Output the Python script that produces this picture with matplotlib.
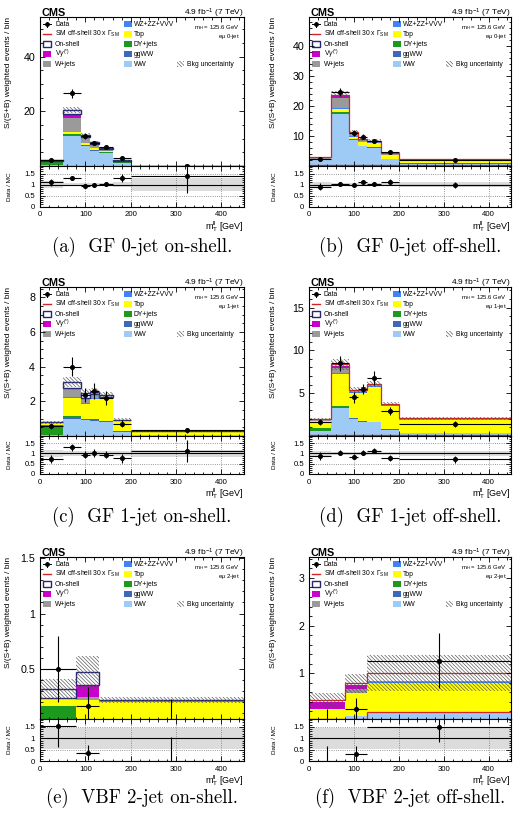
import numpy as np
import matplotlib
matplotlib.use('Agg')
import matplotlib.pyplot as plt
from matplotlib.patches import Rectangle
from matplotlib.lines import Line2D
from matplotlib.ticker import MultipleLocator, FuncFormatter

plt.rcParams['font.family'] = ['Liberation Sans', 'DejaVu Sans']
plt.rcParams['mathtext.fontset'] = 'custom'
plt.rcParams['mathtext.rm'] = 'Liberation Sans'
plt.rcParams['mathtext.it'] = 'Liberation Sans:italic'
plt.rcParams['mathtext.bf'] = 'Liberation Sans:bold'
plt.rcParams['hatch.linewidth'] = 0.45
plt.rcParams['hatch.color'] = '#505050'
plt.rcParams['axes.linewidth'] = 0.8

# ---------------- data ----------------
edges_gf = [0, 50, 90, 110, 130, 160, 200, 450]
edges_vbf = [0, 80, 130, 450]

bkg_labels = ['WW', 'ggWW', 'DY+jets', 'Top', 'WZ+ZZ+VVV', 'W+jets', r'V$\gamma^{(*)}$']
bkg_colors = ['#9dcbf5', '#3e68b8', '#1d9a1d', '#ffff00', '#4183f5', '#9a9a9a', '#cc00cc']

# (a) GF 0-jet on-shell
a_ww    = [0.50, 11.0, 7.40, 5.60, 4.70, 1.20, 0.05]
a_ggww  = [0.02, 0.40, 0.25, 0.20, 0.15, 0.05, 0.00]
a_dy    = [0.90, 0.30, 0.20, 0.15, 0.10, 0.05, 0.00]
a_top   = [0.15, 0.60, 0.50, 0.60, 0.50, 0.30, 0.02]
a_vz    = [0.05, 0.20, 0.15, 0.10, 0.10, 0.05, 0.00]
a_wjets = [0.30, 5.20, 1.80, 1.20, 0.60, 0.30, 0.01]
a_vg    = [0.05, 1.20, 0.40, 0.30, 0.20, 0.05, 0.00]
a_on    = [0.08, 1.60, 0.70, 0.50, 0.30, 0.10, 0.00]
a_data  = [2.25, 26.6, 10.9, 8.40, 6.90, 2.75, 0.11]
a_err   = [0.35, 1.60, 0.90, 0.70, 0.60, 0.40, 0.06]
a_unc   = [0.15, 1.20, 0.70, 0.50, 0.40, 0.20, 0.02]
a_rband = [0.15, 0.08, 0.08, 0.08, 0.08, 0.12, 0.30]

# (b) GF 0-jet off-shell
b_ww    = [1.90, 17.3, 8.60, 6.50, 6.10, 2.30, 0.80]
b_ggww  = [0.05, 0.40, 0.20, 0.15, 0.15, 0.10, 0.10]
b_dy    = [0.30, 0.30, 0.10, 0.10, 0.05, 0.05, 0.05]
b_top   = [0.15, 1.10, 0.90, 1.10, 1.50, 1.20, 0.75]
b_vz    = [0.05, 0.20, 0.15, 0.10, 0.10, 0.10, 0.10]
b_wjets = [0.10, 3.20, 0.90, 0.60, 0.20, 0.20, 0.15]
b_vg    = [0.05, 0.90, 0.15, 0.10, 0.05, 0.05, 0.05]
b_off   = [0.25, 0.30, 0.30, 0.30, 0.30, 0.30, 0.30]
b_data  = [2.35, 24.5, 11.0, 9.80, 8.30, 4.50, 1.95]
b_err   = [0.40, 1.30, 0.90, 0.80, 0.70, 0.50, 0.25]
b_unc   = [0.20, 1.20, 0.60, 0.50, 0.45, 0.30, 0.15]
b_rband = [0.10, 0.06, 0.06, 0.06, 0.06, 0.08, 0.10]

# (c) GF 1-jet on-shell
c_ww    = [0.05, 1.00, 0.90, 0.87, 0.80, 0.23, 0.03]
c_ggww  = [0.00, 0.05, 0.04, 0.04, 0.03, 0.01, 0.00]
c_dy    = [0.60, 0.13, 0.05, 0.05, 0.04, 0.02, 0.02]
c_top   = [0.12, 1.00, 0.85, 1.20, 1.25, 0.60, 0.20]
c_vz    = [0.01, 0.05, 0.04, 0.04, 0.03, 0.02, 0.01]
c_wjets = [0.02, 0.50, 0.30, 0.20, 0.10, 0.04, 0.01]
c_vg    = [0.00, 0.02, 0.02, 0.01, 0.01, 0.00, 0.00]
c_on    = [0.00, 0.35, 0.30, 0.14, 0.09, 0.03, 0.01]
c_data  = [0.58, 4.00, 2.35, 2.60, 2.20, 0.72, 0.32]
c_err   = [0.15, 0.55, 0.40, 0.45, 0.40, 0.20, 0.15]
c_unc   = [0.08, 0.30, 0.20, 0.20, 0.18, 0.08, 0.03]
c_rband = [0.15, 0.12, 0.10, 0.10, 0.10, 0.12, 0.15]

# (d) GF 1-jet off-shell
d_ww    = [0.55, 3.30, 2.00, 1.60, 1.60, 0.75, 0.30]
d_ggww  = [0.02, 0.10, 0.06, 0.05, 0.05, 0.03, 0.02]
d_dy    = [0.40, 0.15, 0.05, 0.05, 0.04, 0.03, 0.03]
d_top   = [0.80, 3.70, 2.90, 3.30, 4.00, 2.70, 1.50]
d_vz    = [0.03, 0.15, 0.10, 0.10, 0.10, 0.06, 0.05]
d_wjets = [0.05, 0.50, 0.15, 0.15, 0.15, 0.08, 0.05]
d_vg    = [0.02, 0.30, 0.04, 0.05, 0.06, 0.03, 0.02]
d_off   = [0.10, 0.15, 0.10, 0.10, 0.10, 0.10, 0.10]
d_data  = [1.65, 8.50, 4.50, 5.50, 6.80, 2.90, 1.40]
d_err   = [0.35, 0.90, 0.60, 0.60, 0.80, 0.50, 0.30]
d_unc   = [0.15, 0.60, 0.35, 0.35, 0.35, 0.20, 0.15]
d_rband = [0.10, 0.08, 0.08, 0.08, 0.08, 0.08, 0.10]

# (e) VBF 2-jet on-shell
e_ww    = [0.010, 0.010, 0.010]
e_ggww  = [0.000, 0.000, 0.000]
e_dy    = [0.155, 0.000, 0.000]
e_top   = [0.070, 0.215, 0.190]
e_vz    = [0.000, 0.000, 0.000]
e_wjets = [0.008, 0.020, 0.020]
e_vg    = [0.000, 0.110, 0.000]
e_on    = [0.080, 0.115, 0.000]
e_data  = [0.50, 0.167, 0.0]
e_elo   = [0.30, 0.140, 0.0]
e_ehi   = [0.30, 0.170, 0.23]
e_unc   = [0.09, 0.150, 0.03]
e_rband = [0.45, 0.45, 0.45]

# (f) VBF 2-jet off-shell
f_ww    = [0.00, 0.10, 0.17]
f_ggww  = [0.00, 0.00, 0.00]
f_dy    = [0.00, 0.00, 0.00]
f_top   = [0.24, 0.48, 0.63]
f_vz    = [0.00, 0.00, 0.01]
f_wjets = [0.02, 0.10, 0.02]
f_vg    = [0.13, 0.08, 0.00]
f_off   = [0.05, 0.03, 0.18]
f_data  = [0.0, 0.24, 1.25]
f_elo   = [0.0, 0.24, 0.55]
f_ehi   = [0.26, 0.25, 0.60]
f_unc   = [0.14, 0.20, 0.38]
f_rband = [0.45, 0.45, 0.45]

panels = [
    dict(edges=edges_gf, stack=[a_ww, a_ggww, a_dy, a_top, a_vz, a_wjets, a_vg], on=a_on, off=None,
         data=a_data, elo=a_err, ehi=a_err, unc=a_unc, rband=a_rband, ylim=(0, 54.5), major=20, minor=5,
         cat=r'e$\mu$ 0-jet', caption='(a)  GF 0-jet on-shell.'),
    dict(edges=edges_gf, stack=[b_ww, b_ggww, b_dy, b_top, b_vz, b_wjets, b_vg], on=None, off=b_off,
         data=b_data, elo=b_err, ehi=b_err, unc=b_unc, rband=b_rband, ylim=(0, 49.5), major=10, minor=2,
         cat=r'e$\mu$ 0-jet', caption='(b)  GF 0-jet off-shell.'),
    dict(edges=edges_gf, stack=[c_ww, c_ggww, c_dy, c_top, c_vz, c_wjets, c_vg], on=c_on, off=None,
         data=c_data, elo=c_err, ehi=c_err, unc=c_unc, rband=c_rband, ylim=(0, 8.6), major=2, minor=0.5,
         cat=r'e$\mu$ 1-jet', caption='(c)  GF 1-jet on-shell.'),
    dict(edges=edges_gf, stack=[d_ww, d_ggww, d_dy, d_top, d_vz, d_wjets, d_vg], on=None, off=d_off,
         data=d_data, elo=d_err, ehi=d_err, unc=d_unc, rband=d_rband, ylim=(0, 17.4), major=5, minor=1,
         cat=r'e$\mu$ 1-jet', caption='(d)  GF 1-jet off-shell.'),
    dict(edges=edges_vbf, stack=[e_ww, e_ggww, e_dy, e_top, e_vz, e_wjets, e_vg], on=e_on, off=None,
         data=e_data, elo=e_elo, ehi=e_ehi, unc=e_unc, rband=e_rband, ylim=(0.05, 1.51), major=0.5, minor=0.1,
         cat=r'e$\mu$ 2-jet', caption='(e)  VBF 2-jet on-shell.'),
    dict(edges=edges_vbf, stack=[f_ww, f_ggww, f_dy, f_top, f_vz, f_wjets, f_vg], on=None, off=f_off,
         data=f_data, elo=f_elo, ehi=f_ehi, unc=f_unc, rband=f_rband, ylim=(0.04, 3.44), major=1, minor=0.2,
         cat=r'e$\mu$ 2-jet', caption='(f)  VBF 2-jet off-shell.'),
]

# ---------------- layout (pixels) ----------------
W, H = 519, 817
cols_x = [(40, 244), (309, 511)]
rows_y = [(17, 166, 206.5, 247), (287, 436, 474, 517), (557, 719, 761, 798)]
RED = '#d42424'
NAVY = '#25257a'
HATCH = '\\\\\\\\\\\\\\\\\\'

fig = plt.figure(figsize=(W / 100, H / 100), dpi=100)


def add_ax(x0, x1, y0, y1):
    return fig.add_axes([x0 / W, 1 - y1 / H, (x1 - x0) / W, (y1 - y0) / H])


def fmt(v, pos):
    return '' if abs(v) < 1e-9 else '%g' % v


def style(ax, major, minor):
    ax.tick_params(which='both', direction='in', top=True, right=True, width=0.6)
    ax.tick_params(which='major', length=3.5)
    ax.tick_params(which='minor', length=1.8)
    ax.xaxis.set_major_locator(MultipleLocator(100))
    ax.xaxis.set_minor_locator(MultipleLocator(20))
    ax.yaxis.set_major_locator(MultipleLocator(major))
    ax.yaxis.set_minor_locator(MultipleLocator(minor))


def draw_legend(ax, wpx, hpx):
    fx = lambda p: p / wpx
    fy = lambda p: 1 - p / hpx
    rows = [7.3, 17.3, 27.3, 37.3, 47.3]
    fs = 4.9
    tr = ax.transAxes
    # column 1
    y = rows[0]
    ax.add_line(Line2D([fx(3), fx(11)], [fy(y)] * 2, color='k', lw=0.7, transform=tr))
    ax.add_line(Line2D([fx(7), fx(7)], [fy(y - 2.5), fy(y + 2.5)], color='k', lw=0.7, transform=tr))
    ax.add_line(Line2D([fx(7)], [fy(y)], marker='o', ms=2.4, color='k', transform=tr))
    ax.text(fx(15), fy(y), 'Data', fontsize=fs, va='center', transform=tr)
    y = rows[1]
    ax.add_line(Line2D([fx(3), fx(11)], [fy(y)] * 2, color=RED, lw=1.0, transform=tr))
    ax.text(fx(15), fy(y), r'SM off-shell 30 x $\Gamma_{\mathrm{SM}}$', fontsize=fs, va='center', transform=tr)
    col1 = [(rows[2], dict(facecolor='white', edgecolor=NAVY, lw=1.0), 'On-shell'),
            (rows[3], dict(facecolor=bkg_colors[6], edgecolor='none'), bkg_labels[6]),
            (rows[4], dict(facecolor=bkg_colors[5], edgecolor='none'), bkg_labels[5])]
    col2 = [(rows[0], bkg_colors[4], bkg_labels[4]), (rows[1], bkg_colors[3], bkg_labels[3]),
            (rows[2], bkg_colors[2], bkg_labels[2]), (rows[3], bkg_colors[1], bkg_labels[1]),
            (rows[4], bkg_colors[0], bkg_labels[0])]
    for y, kw, lab in col1:
        ax.add_patch(Rectangle((fx(3), fy(y + 3)), 8 / wpx, 6 / hpx, transform=tr, **kw))
        ax.text(fx(15), fy(y), lab, fontsize=fs, va='center', transform=tr)
    for y, col, lab in col2:
        ax.add_patch(Rectangle((fx(84), fy(y + 3)), 8 / wpx, 6 / hpx, transform=tr, facecolor=col, edgecolor='none'))
        ax.text(fx(94), fy(y), lab, fontsize=fs, va='center', transform=tr)
    y = rows[4]
    ax.add_patch(Rectangle((fx(137), fy(y + 3)), 7 / wpx, 6 / hpx, transform=tr, fill=False,
                           hatch=HATCH, edgecolor='#505050', lw=0))
    ax.text(fx(147), fy(y), 'Bkg uncertainty', fontsize=fs, va='center', transform=tr)


for i, p in enumerate(panels):
    ci, ri = i % 2, i // 2
    x0, x1 = cols_x[ci]
    y0, ym, y1, ycap = rows_y[ri]
    ax = add_ax(x0, x1, y0, ym)
    rax = add_ax(x0, x1, ym, y1)
    wpx, hpx, rhpx = x1 - x0, ym - y0, y1 - ym

    edges = np.array(p['edges'], float)
    widths = np.diff(edges)
    centers = edges[:-1] + widths / 2
    bottom = np.zeros(len(widths))
    for vals, col in zip(p['stack'], bkg_colors):
        vals = np.array(vals, float)
        ax.stairs(bottom + vals, edges, baseline=bottom.copy(), fill=True, color=col, lw=0)
        bottom = bottom + vals
    denom = bottom.copy()
    total = bottom.copy()
    if p['on'] is not None:
        on = np.array(p['on'], float)
        ax.bar(edges[:-1], on, width=widths, bottom=bottom, align='edge', facecolor='white',
               edgecolor=NAVY, lw=1.0)
        denom = denom + on
        total = total + on
    if p['off'] is not None:
        off = np.array(p['off'], float)
        total = total + off
        ax.stairs(total, edges, baseline=None, color=RED, lw=0.9)
        ax.stairs(off, edges, baseline=None, color=RED, lw=0.9)
    unc = np.array(p['unc'], float)
    ax.bar(edges[:-1], 2 * unc, width=widths, bottom=total - unc, align='edge', fill=False,
           hatch=HATCH, edgecolor='#505050', lw=0)

    data = np.array(p['data'], float)
    elo = np.array(p['elo'], float)
    ehi = np.array(p['ehi'], float)
    ax.errorbar(centers, data, xerr=widths / 2, yerr=[elo, ehi], fmt='none', ecolor='k', elinewidth=0.8)
    m = data > 0
    ax.plot(centers[m], data[m], 'o', color='k', ms=2.6)

    ax.set_xlim(0, 450)
    ax.set_ylim(*p['ylim'])
    style(ax, p['major'], p['minor'])
    ax.tick_params(labelbottom=False, labelsize=7.7)
    ax.yaxis.set_major_formatter(FuncFormatter(fmt))
    ax.set_ylabel('S/(S+B) weighted events / bin', fontsize=6.0, ha='right', y=1.0)
    ax.yaxis.set_label_coords(-(28 if ci == 0 else 32) / wpx, 1.0)

    draw_legend(ax, wpx, hpx)
    ax.text(1 - 4 / wpx, 1 - 11 / hpx, r'm$_{\mathrm{H}}$ = 125.6 GeV', fontsize=4.3, ha='right',
            va='center', transform=ax.transAxes)
    ax.text(1 - 4 / wpx, 1 - 19.7 / hpx, p['cat'], fontsize=4.3, ha='right', va='center',
            transform=ax.transAxes)
    ax.text(0.005, 1 + 1.5 / hpx, 'CMS', fontsize=7.8, fontweight='bold', ha='left', va='baseline',
            transform=ax.transAxes)
    ax.text(1.0, 1 + 1.5 / hpx, r'4.9 fb$^{-1}$ (7 TeV)', fontsize=6.0, ha='right', va='baseline',
            transform=ax.transAxes)

    # ratio
    rband = np.array(p['rband'], float)
    rax.bar(edges[:-1], 2 * rband, width=widths, bottom=1 - rband, align='edge', color='#dcdcdc', lw=0)
    rax.grid(True, which='major', linestyle=':', color='#777777', lw=0.6)
    rax.axhline(1.0, color='k', lw=0.8)
    ratio = data / denom
    rax.errorbar(centers, ratio, xerr=widths / 2, yerr=[elo / denom, ehi / denom], fmt='none',
                 ecolor='k', elinewidth=0.8)
    rax.plot(centers[m], ratio[m], 'o', color='k', ms=2.6)
    rax.set_xlim(0, 450)
    rax.set_ylim(0, 1.85)
    style(rax, 0.5, 0.1)
    rax.tick_params(labelsize=5.6)
    rax.yaxis.set_major_formatter(FuncFormatter(lambda v, pos: '%g' % v))
    rax.set_ylabel('Data / MC', fontsize=4.6)
    rax.yaxis.set_label_coords(-(28 if ci == 0 else 32) / wpx, 0.5)
    rax.set_xlabel(r'm$_{\mathrm{T}}^{\mathrm{ll}}$ [GeV]', fontsize=6.5, ha='right', va='center')
    rax.xaxis.set_label_coords(1.0, -20 / rhpx)

    fig.text((x0 + x1) / 2 / W, 1 - ycap / H, p['caption'], family='cmr10', fontsize=13.5,
             ha='center', va='center')

fig.savefig('out.png', dpi=100)
